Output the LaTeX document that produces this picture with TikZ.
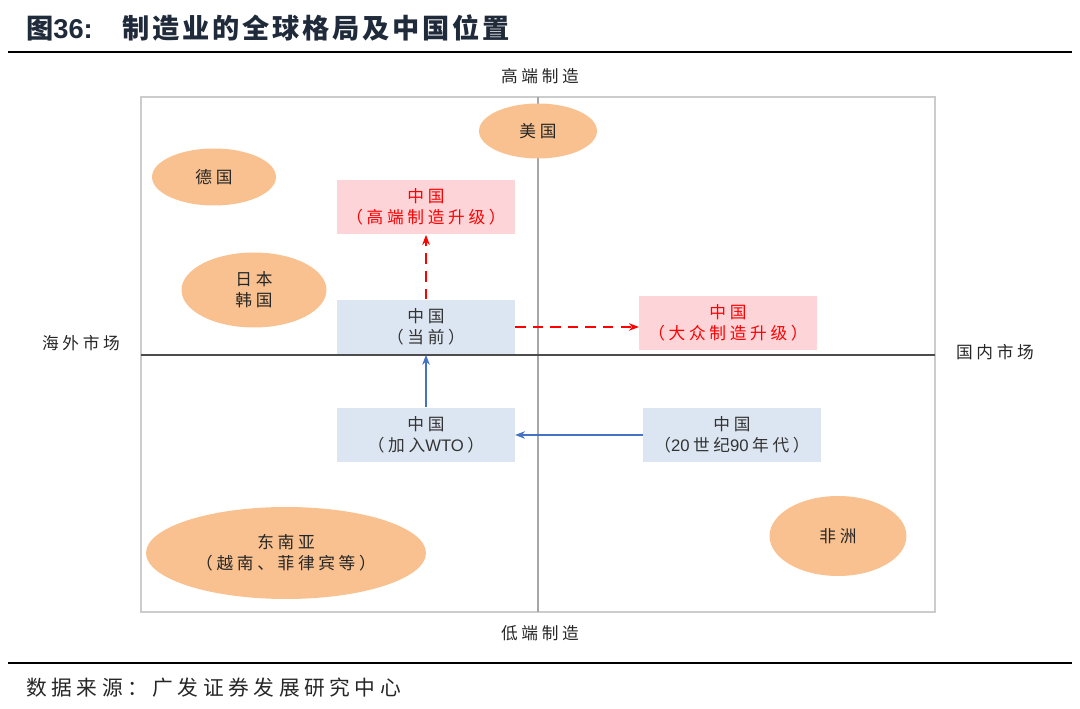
\documentclass[tikz,border=0pt]{standalone}
\usepackage{xcolor}
\usepackage{fontspec}
\setmainfont{Noto Sans CJK SC}[LetterSpace=22]
\newfontfamily\hurufjudul{Noto Sans CJK SC}[LetterSpace=10]
\newfontfamily\latin{Liberation Sans}
\usepackage{tikz}
\usetikzlibrary{arrows.meta, positioning, shapes.geometric}

\definecolor{jeruk}{HTML}{F8C18F}
\definecolor{merahmuda}{HTML}{FDD5D9}
\definecolor{birumuda}{HTML}{DCE6F2}
\definecolor{birupanah}{HTML}{4472C4}
\definecolor{judul}{HTML}{1F2A3A}

\begin{document}
\begin{tikzpicture}[
    x=0.02cm, y=-0.02cm,
    negara/.style={ellipse, fill=jeruk, inner sep=0pt, align=center,
                   font=\fontsize{9.5pt}{12pt}\selectfont, text=black!85},
    kotak/.style={minimum height=1.1cm, minimum width=3.55cm, inner sep=0pt,
                  align=center, font=\fontsize{9.5pt}{12pt}\selectfont},
    kini/.style={kotak, fill=birumuda, text=black!80},
    naik/.style={kotak, fill=merahmuda, text=red},
    sumbu/.style={font=\fontsize{9.5pt}{12pt}\selectfont, text=black!85},
    panahbiru/.style={-{Stealth[length=2mm]}, thick, birupanah},
    panahmerah/.style={-{Stealth[length=2mm]}, very thick, red, dash pattern=on 6pt off 4pt}
  ]
    \useasboundingbox (0,0) rectangle (1080,709);
    % judul dan sumber
    \node[anchor=west, font=\hurufjudul\fontsize{15.5pt}{18pt}\selectfont\bfseries, text=judul] (judul) at (20,28)
      {图{\latin\bfseries 36:}\hspace{1.1em}制造业的全球格局及中国位置};
    \draw[line width=1.2pt] (8,52) -- (1072,52);
    \draw[line width=1.2pt] (8,663) -- (1072,663);
    \node[anchor=west, font=\fontsize{11.8pt}{13pt}\selectfont, text=black!85] (sumber) at (20,688)
      {数据来源：广发证券发展研究中心};
    % bingkai dan sumbu
    \draw[black!20, line width=0.8pt] (141,97) rectangle (935,612);
    \draw[black!35, line width=0.8pt] (538,97) -- (538,612);
    \draw[black!70, line width=0.6pt] (141,355) -- (935,355);
    \node[sumbu] (atas)  at (540,76)  {高端制造};
    \node[sumbu] (bawah) at (540,633) {低端制造};
    \node[sumbu] (kiri)  at (81,343)  {海外市场};
    \node[sumbu] (kanan) at (995,352) {国内市场};
    % negara lain
    \node[negara, minimum width=2.36cm, minimum height=1.1cm] (as)  at (538,131) {美国};
    \node[negara, minimum width=2.48cm, minimum height=1.14cm] (de) at (214,177) {德国};
    \node[negara, minimum width=2.9cm,  minimum height=1.5cm] (jk) at (254,290) {日本\\韩国};
    \node[negara, minimum width=5.6cm,  minimum height=1.84cm] (asean) at (286,553)
      {东南亚\\（越南、菲律宾等）};
    \node[negara, minimum width=2.74cm, minimum height=1.6cm] (afrika) at (838,536) {非洲};
    % posisi China
    \node[kini] (kini)  at (426,327) {中国\\（当前）};
    \node[naik] (tinggi) at (426,207) {中国\\（高端制造升级）};
    \node[naik] (massa)  at (728,323) {中国\\（大众制造升级）};
    \node[kini] (wto)    at (426,435) {中国\\（加入{\latin WTO}\hspace{2pt}）};
    \node[kini] (lama)   at (732,435) {中国\\（{\latin 20}\hspace{2pt}世纪{\latin 90}\hspace{2pt}年代）};
    \draw[panahbiru] (lama) -- (wto);
    \draw[panahbiru] (wto) -- (kini);
    \draw[panahmerah] (kini) -- (tinggi);
    \draw[panahmerah] (kini.east) -- (kini.east -| massa.west);
  \end{tikzpicture}
\end{document}
